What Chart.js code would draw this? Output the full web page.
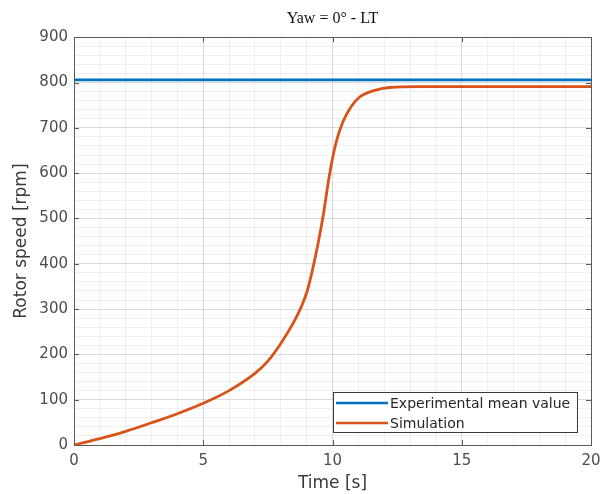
<!DOCTYPE html>
<html>
<head>
<meta charset="utf-8">
<script src="https://cdn.jsdelivr.net/npm/chart.js@4"></script>
<style>
  html, body { margin: 0; padding: 0; background: #fff; }
  #wrap { width: 604px; height: 494px; }
</style>
</head>
<body>
<div id="wrap"><canvas id="rotorChart" width="604" height="494"></canvas></div>
<script>
// data
const timeExp = [0, 20];
const rpmExp = [806, 806];

const timeSim = [0, 1, 2, 3, 4, 5, 6, 7, 7.5, 8, 8.5, 8.8, 9.0, 9.2, 9.45, 9.65, 9.85, 10.0, 10.15, 10.4, 10.7, 11.05, 11.6, 12.2, 13.4, 16, 20];
const rpmSim = [0, 14, 30, 49, 69, 92, 120, 158, 185, 224, 271, 306, 336, 380, 447, 510, 585, 632, 670, 713, 745, 768, 782, 789, 791, 791, 791];

const seriesLabels = ['Experimental mean value', 'Simulation'];
const seriesColors = ['#0072BD', '#D95319'];

const X_MIN = 0, X_MAX = 20, X_MAJOR = 5, X_MINOR = 1;
const Y_MIN = 0, Y_MAX = 900, Y_MAJOR = 100, Y_MINOR = 20;

const AXIS_COLOR = '#5a5a5a';
const MAJOR_GRID = 'rgba(0,0,0,0.14)';
const MINOR_GRID = 'rgba(0,0,0,0.06)';
const SANS = 'DejaVu Sans, Verdana, sans-serif';
const TICK_FONT = { family: SANS, size: 15 };
const LABEL_FONT = { family: SANS, size: 17 };

const toPoints = (xs, ys) => xs.map((x, i) => ({ x, y: ys[i] }));

/* === full axes box + inward ticks (matlab style) === */
const boxPlugin = {
  id: 'axesBox',
  afterDatasetsDraw(chart) {
    const { ctx, chartArea: a, scales } = chart;
    ctx.save();
    ctx.strokeStyle = AXIS_COLOR;
    ctx.lineWidth = 1;
    ctx.beginPath();
    for (let v = X_MIN; v <= X_MAX; v += X_MAJOR) {
      const px = Math.round(scales.x.getPixelForValue(v)) + 0.5;
      ctx.moveTo(px, a.bottom); ctx.lineTo(px, a.bottom - 5);
      ctx.moveTo(px, a.top); ctx.lineTo(px, a.top + 5);
    }
    for (let v = Y_MIN; v <= Y_MAX; v += Y_MAJOR) {
      const py = Math.round(scales.y.getPixelForValue(v)) + 0.5;
      ctx.moveTo(a.left, py); ctx.lineTo(a.left + 5, py);
      ctx.moveTo(a.right, py); ctx.lineTo(a.right - 5, py);
    }
    ctx.stroke();
    ctx.strokeRect(Math.round(a.left) + 0.5, Math.round(a.top) + 0.5,
      Math.round(a.right - a.left), Math.round(a.bottom - a.top));
    ctx.restore();
  }
};

/* === legend inside the axes, bottom right === */
const insideLegendPlugin = {
  id: 'insideLegend',
  afterDraw(chart) {
    const { ctx, chartArea: a } = chart;
    const boxW = 244, boxH = 40, rowH = 20;
    const x0 = a.right - 14 - boxW;
    const y0 = a.bottom - 13 - boxH;
    ctx.save();
    ctx.fillStyle = '#fff';
    ctx.fillRect(x0, y0, boxW, boxH);
    ctx.strokeStyle = '#3a3a3a';
    ctx.lineWidth = 1;
    ctx.strokeRect(Math.round(x0) + 0.5, Math.round(y0) + 0.5, boxW, boxH);
    ctx.font = '14px ' + SANS;
    ctx.textBaseline = 'middle';
    ctx.textAlign = 'left';
    chart.data.datasets.forEach((ds, i) => {
      const cy = y0 + 11 + i * rowH;
      ctx.strokeStyle = ds.borderColor;
      ctx.lineWidth = 2.5;
      ctx.beginPath();
      ctx.moveTo(x0 + 3, cy);
      ctx.lineTo(x0 + 55, cy);
      ctx.stroke();
      ctx.fillStyle = '#262626';
      ctx.fillText(ds.label, x0 + 57, cy + 1);
    });
    ctx.restore();
  }
};

const PAD_LEFT = 8, PAD_RIGHT = 13, PAD_BOTTOM = 0;

new Chart(document.getElementById('rotorChart'), {
  type: 'line',
  data: {
    datasets: [
      {
        label: seriesLabels[0],
        data: toPoints(timeExp, rpmExp),
        borderColor: seriesColors[0],
        borderWidth: 2.8,
        pointRadius: 0,
        fill: false
      },
      {
        label: seriesLabels[1],
        data: toPoints(timeSim, rpmSim),
        borderColor: seriesColors[1],
        borderWidth: 2.8,
        pointRadius: 0,
        cubicInterpolationMode: 'monotone',
        fill: false
      }
    ]
  },
  options: {
    responsive: false,
    animation: false,
    layout: { padding: { left: PAD_LEFT, right: PAD_RIGHT, top: 0, bottom: PAD_BOTTOM } },
    plugins: {
      legend: { display: false },
      tooltip: { enabled: false },
      title: {
        display: true,
        fullSize: false,
        text: 'Yaw = 0° - LT',
        color: '#111',
        font: { family: 'Liberation Serif, DejaVu Serif, serif', size: 16, weight: 'normal' },
        padding: { top: 9, bottom: 9 }
      }
    },
    scales: {
      x: {
        type: 'linear',
        min: X_MIN,
        max: X_MAX,
        afterFit(s) {
          s.height = 494 - 445 - PAD_BOTTOM;
          s.paddingLeft = 0;
          s.paddingRight = 0;
        },
        border: { display: false },
        grid: {
          drawTicks: false,
          color: c => (c.tick.value % X_MAJOR === 0 ? MAJOR_GRID : MINOR_GRID)
        },
        ticks: {
          stepSize: X_MINOR,
          autoSkip: false,
          maxRotation: 0,
          padding: 7,
          color: '#4d4d4d',
          font: TICK_FONT,
          callback: v => (v % X_MAJOR === 0 ? v : '')
        },
        title: {
          display: true,
          text: 'Time [s]',
          color: '#3a3a3a',
          font: LABEL_FONT,
          padding: { top: 0, bottom: 0 }
        }
      },
      y: {
        min: Y_MIN,
        max: Y_MAX,
        afterFit(s) { s.width = 74 - PAD_LEFT; },
        border: { display: false },
        grid: {
          drawTicks: false,
          color: c => (c.tick.value % Y_MAJOR === 0 ? MAJOR_GRID : MINOR_GRID)
        },
        ticks: {
          stepSize: Y_MINOR,
          autoSkip: false,
          padding: 6,
          color: '#4d4d4d',
          font: TICK_FONT,
          callback: v => (v % Y_MAJOR === 0 ? v : '')
        },
        title: {
          display: true,
          text: 'Rotor speed [rpm]',
          color: '#3a3a3a',
          font: LABEL_FONT,
          padding: { top: 3, bottom: 0 }
        }
      }
    }
  },
  plugins: [boxPlugin, insideLegendPlugin]
});
</script>
</body>
</html>
